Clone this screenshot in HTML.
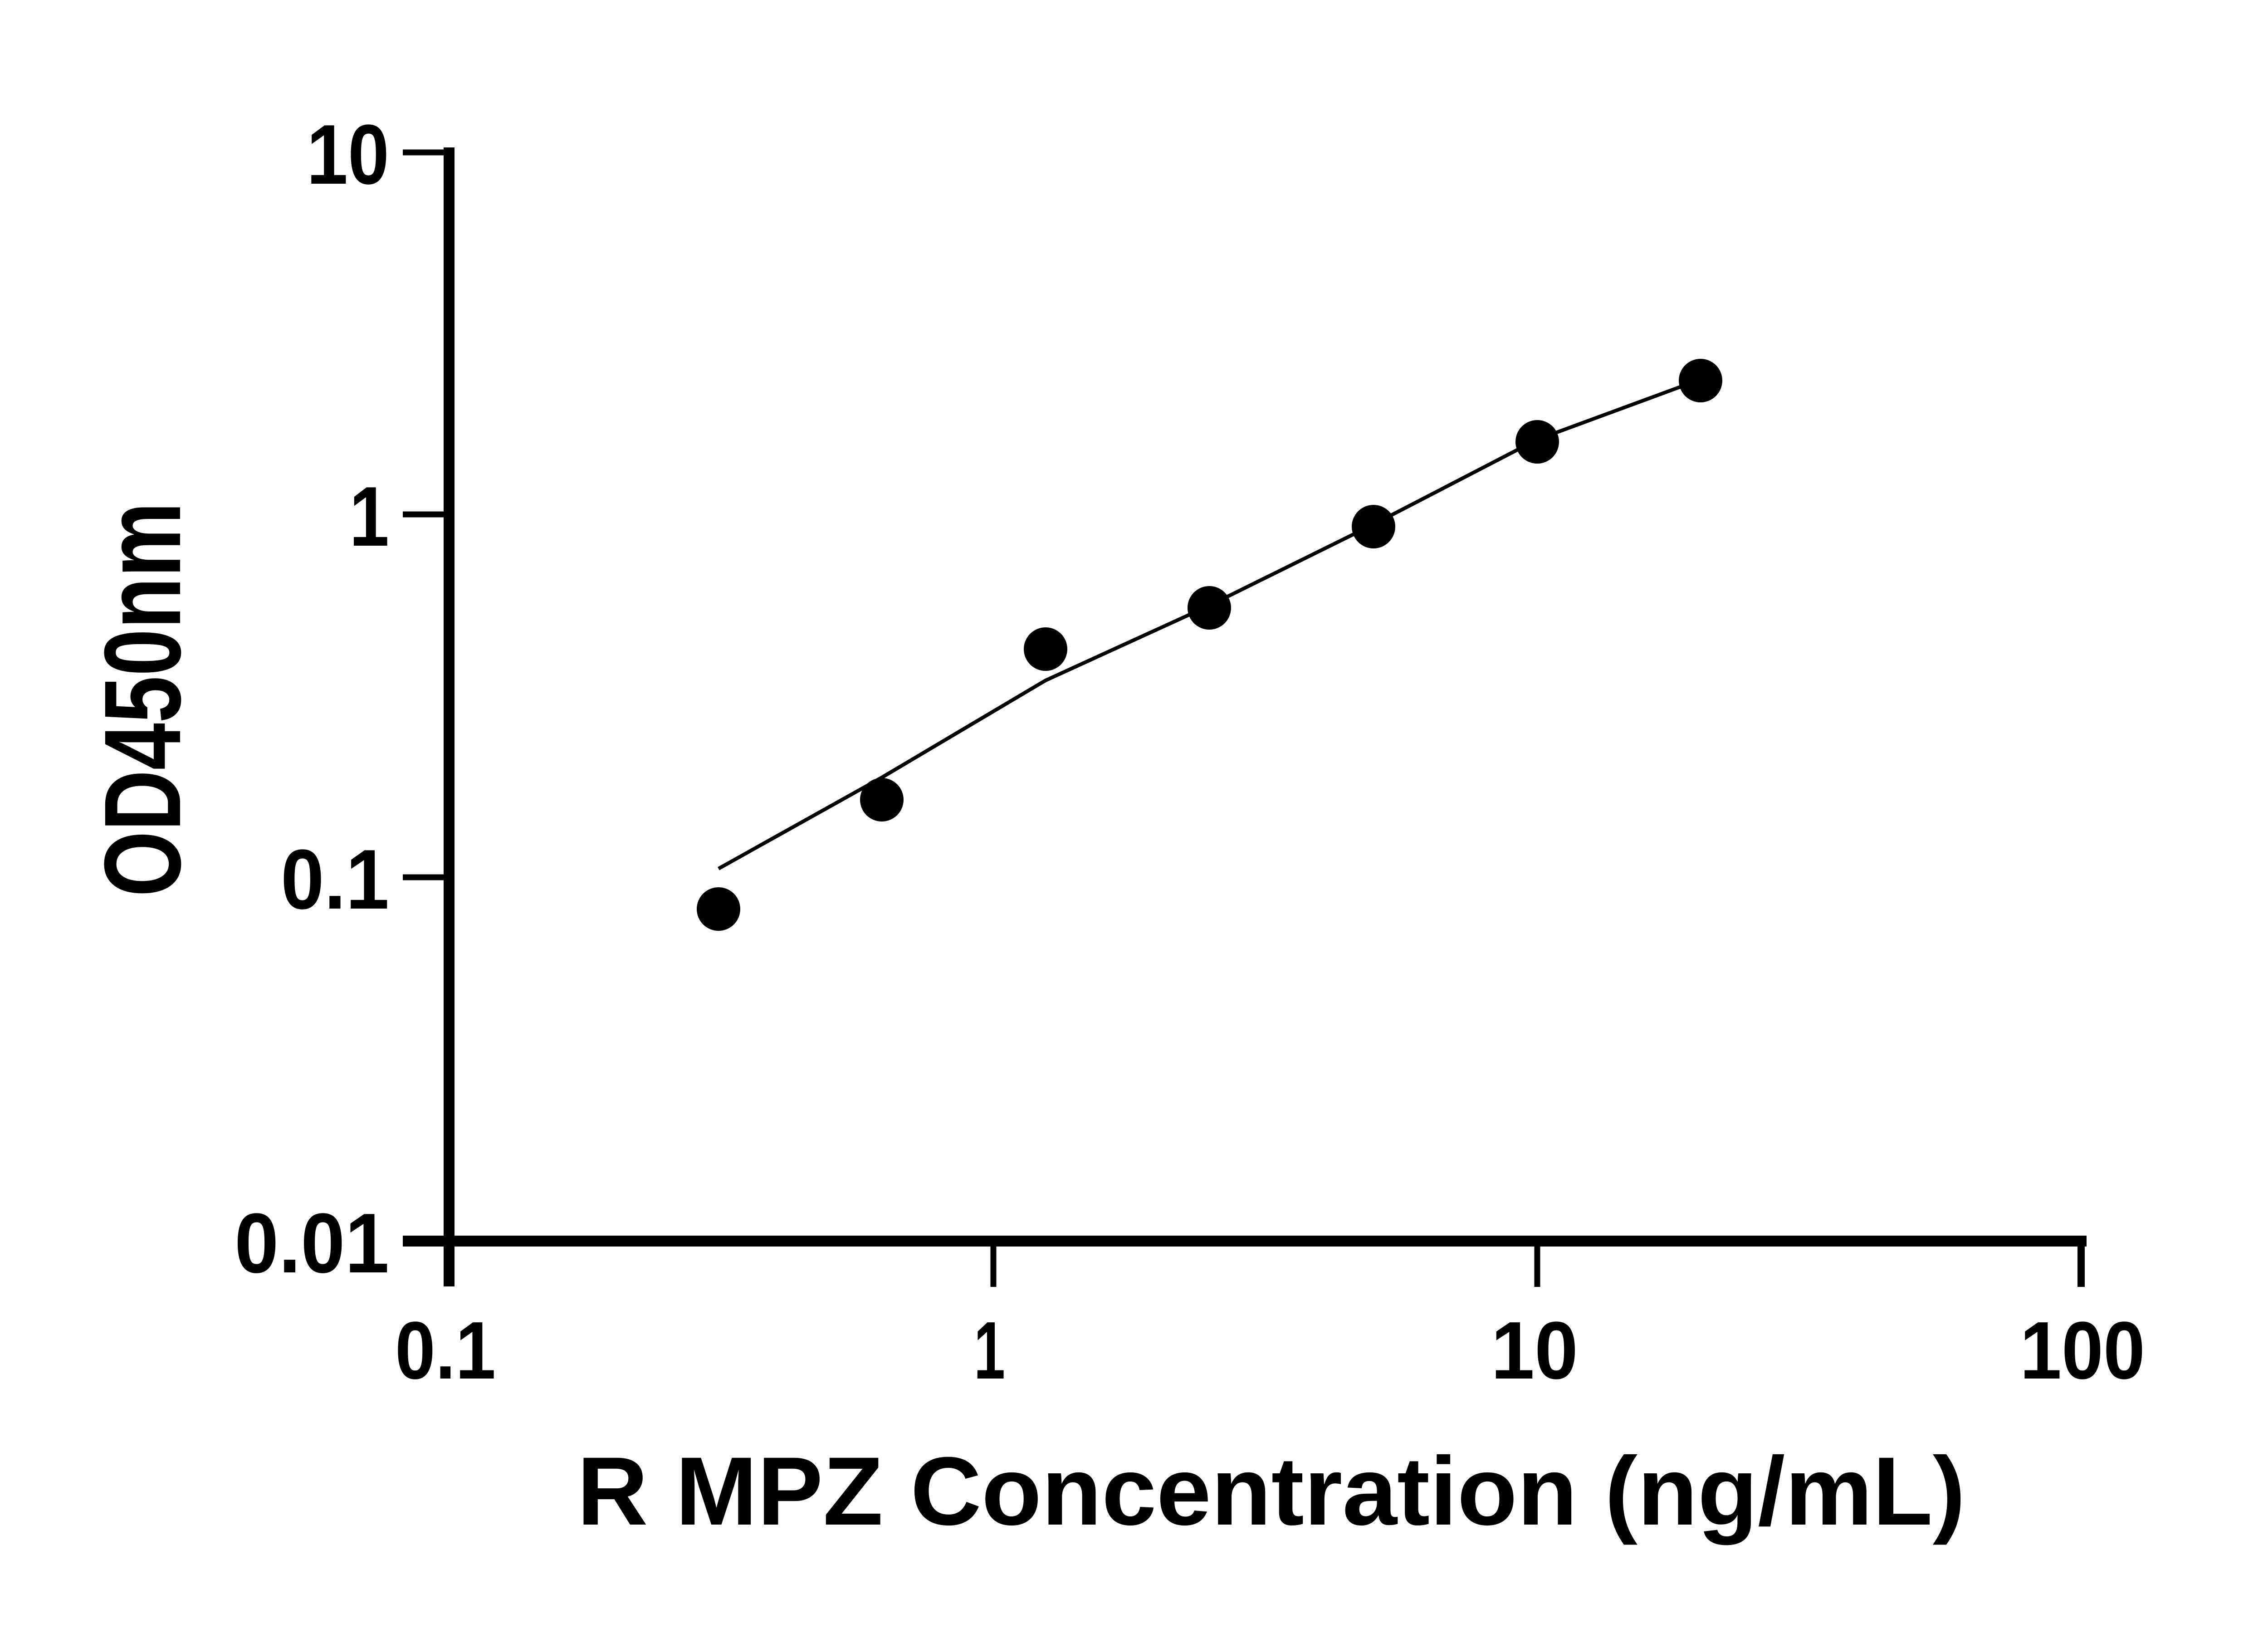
<!DOCTYPE html>
<html><head><meta charset="utf-8"><style>html,body{margin:0;padding:0;background:#fff}svg{display:block}</style></head>
<body>
<svg width="5142" height="3600" viewBox="0 0 5142 3600" xmlns="http://www.w3.org/2000/svg">
<rect width="5142" height="3600" fill="#fff"/>
<g stroke="#000" fill="none">
<line x1="990" y1="325" x2="990" y2="2836" stroke-width="24"/>
<line x1="888" y1="2736" x2="4600" y2="2736" stroke-width="24"/>
<g stroke-width="13">
<line x1="888" y1="336" x2="990" y2="336"/>
<line x1="888" y1="1134" x2="990" y2="1134"/>
<line x1="888" y1="1934" x2="990" y2="1934"/>
<line x1="2190" y1="2736" x2="2190" y2="2837"/>
<line x1="3389" y1="2736" x2="3389" y2="2837"/>
<line x1="4588" y1="2736" x2="4588" y2="2837"/>
</g>
<line x1="4588" y1="2736" x2="4588" y2="2837" stroke-width="16"/>
<path d="M1584,1915 L1944,1714 L2305,1500 L2666,1335 L3028,1156 L3389,969 L3704,853" stroke-width="8"/>
</g>
<g fill="#000">
<circle cx="1584" cy="2004" r="48"/>
<circle cx="1944" cy="1763" r="48"/>
<circle cx="2305" cy="1431" r="48"/>
<circle cx="2666" cy="1340" r="48"/>
<circle cx="3028" cy="1161" r="48"/>
<circle cx="3389" cy="974" r="48"/>
<circle cx="3749" cy="839" r="48"/>
</g>
<g font-family="Liberation Sans, sans-serif" font-weight="bold" fill="#000">
<text x="676" y="405" font-size="187" textLength="182" lengthAdjust="spacingAndGlyphs">10</text>
<text x="770" y="1203" font-size="187" textLength="88" lengthAdjust="spacingAndGlyphs">1</text>
<text x="619" y="2003" font-size="187" textLength="239" lengthAdjust="spacingAndGlyphs">0.1</text>
<text x="517" y="2805" font-size="187" textLength="341" lengthAdjust="spacingAndGlyphs">0.01</text>
<text x="871" y="3039" font-size="180" textLength="222" lengthAdjust="spacingAndGlyphs">0.1</text>
<text x="2147" y="3039" font-size="180" textLength="69" lengthAdjust="spacingAndGlyphs">1</text>
<text x="3287" y="3039" font-size="180" textLength="192" lengthAdjust="spacingAndGlyphs">10</text>
<text x="4453" y="3039" font-size="180" textLength="276" lengthAdjust="spacingAndGlyphs">100</text>
<text x="1272" y="3361" font-size="214" textLength="3061" lengthAdjust="spacingAndGlyphs">R MPZ Concentration (ng/mL)</text>
<text transform="translate(397,1977) rotate(-90)" x="0" y="0" font-size="240" textLength="870" lengthAdjust="spacingAndGlyphs">OD450nm</text>
</g>
</svg>
</body></html>
